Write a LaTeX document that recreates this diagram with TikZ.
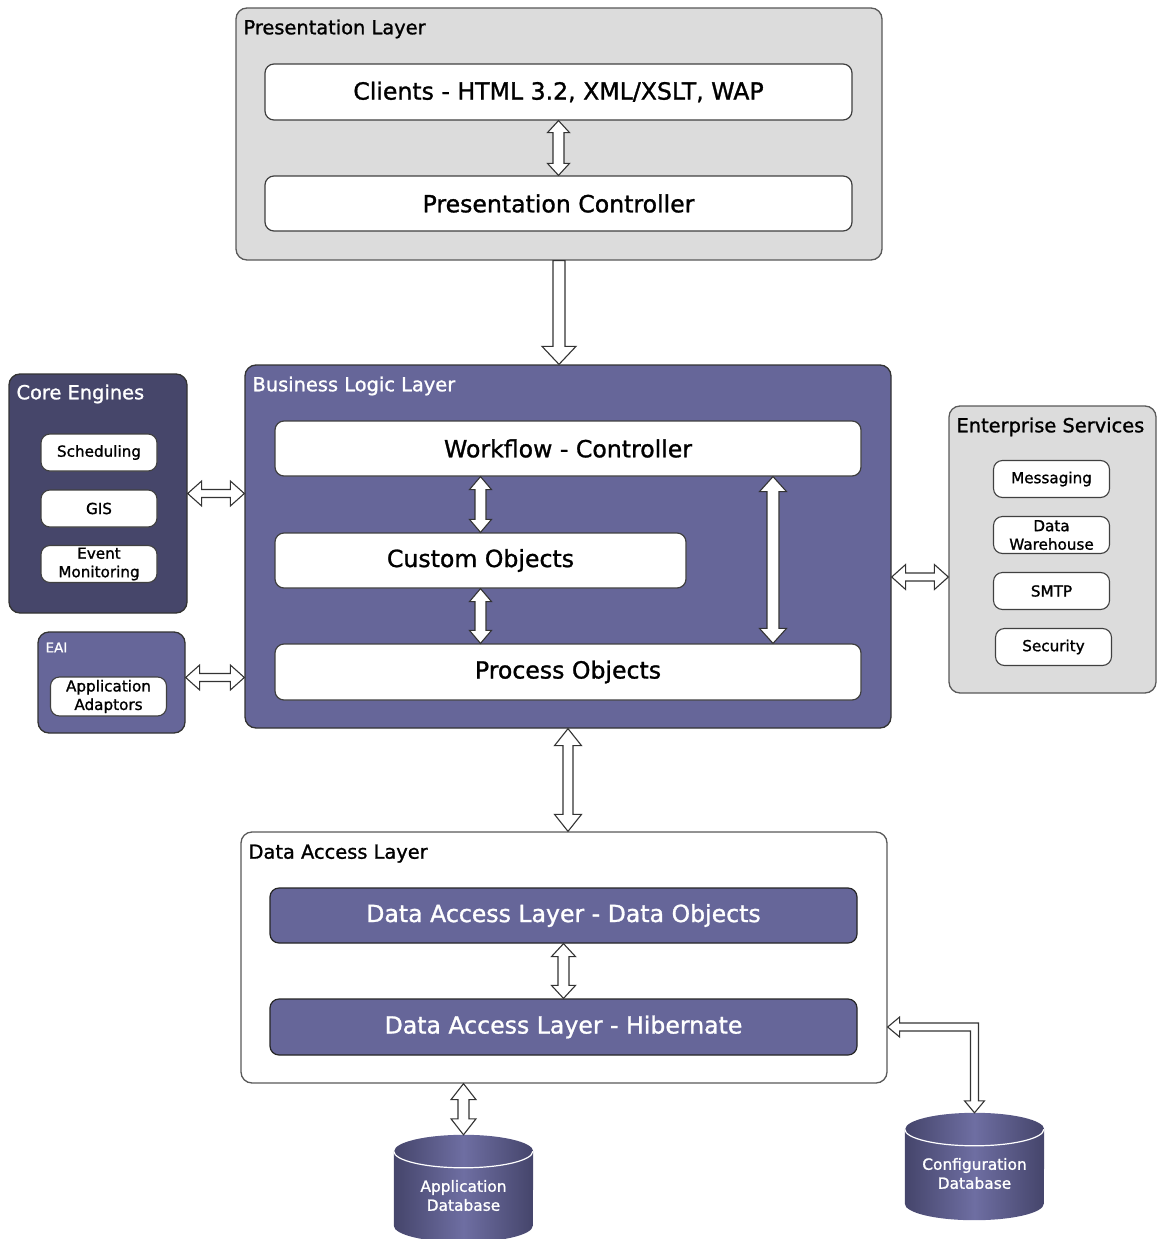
\documentclass[tikz,border=0pt]{standalone}
\usepackage{fontspec}
\setmainfont{DejaVu Sans}[FakeBold=1.2]
\usetikzlibrary{calc,positioning}

\definecolor{panelgray}{HTML}{DCDCDC}
\definecolor{bllpurple}{HTML}{666699}
\definecolor{corepurple}{HTML}{46466A}
\definecolor{dbdark}{HTML}{45456B}
\definecolor{dblight}{HTML}{6E6EA2}

\newcommand{\fbig}{\fontsize{23.6}{27}\selectfont}
\newcommand{\ftitle}{\fontsize{19.4}{22}\selectfont}
\newcommand{\fsmall}{\fontsize{15.2}{18.5}\selectfont}
\newcommand{\fdb}{\fontsize{15.4}{19}\selectfont}
\newcommand{\feai}{\fontsize{13.5}{16}\selectfont}

% hollow double arrow, vertical: top, bottom, shaft half, head half, head length
\newcommand{\vdbl}[6][]{%
  \draw[hollow,#1] (#2) -- ++(#5,#6) -- ++({#4-#5},0) -- ($(#3)+(#4,-#6)$)
    -- ++({#5-#4},0) -- (#3) -- ++(-#5,-#6) -- ++({#5-#4},0)
    -- ($(#2)+(-#4,#6)$) -- ++({#4-#5},0) -- cycle;}
% hollow double arrow, horizontal: left, right, shaft half, head half, head length
\newcommand{\hdbl}[6][]{%
  \draw[hollow,#1] (#2) -- ++(#6,-#5) -- ++(0,{#5-#4}) -- ($(#3)+(-#6,-#4)$)
    -- ++(0,{#4-#5}) -- (#3) -- ++(-#6,#5) -- ++(0,{#4-#5})
    -- ($(#2)+(#6,#4)$) -- ++(0,{#5-#4}) -- cycle;}
% hollow single arrow pointing down
\newcommand{\vone}[6][]{%
  \draw[hollow,#1] ($(#2)+(-#4,0)$) -- ($(#2)+(#4,0)$) -- ($(#3)+(#4,-#6)$)
    -- ++({#5-#4},0) -- (#3) -- ++(-#5,-#6) -- ++({#5-#4},0) -- cycle;}

\begin{document}
\begin{tikzpicture}[x=1pt, y=-1pt,
    wh/.style 2 args={minimum width=#1pt, minimum height=#2pt},
    panel/.style={rounded corners=11pt, line width=1.3pt, inner sep=0pt},
    graypanel/.style={panel, draw=black!65, fill=panelgray},
    whitepanel/.style={panel, draw=black!65, fill=white},
    purplepanel/.style={panel, draw=black!80, fill=bllpurple},
    corepanel/.style={panel, draw=black!80, fill=corepurple},
    paneltitle/.style={anchor=north west, inner sep=0pt, font=\ftitle},
    whitebox/.style={rounded corners=9pt, draw=black!75, fill=white,
        line width=1.2pt, font=\fbig},
    darkbox/.style={rounded corners=9pt, draw=black!85, fill=bllpurple,
        line width=1.2pt, font=\fbig, text=white},
    smallbox/.style={rounded corners=9pt, draw=black!75, fill=white,
        line width=1.1pt, wh={116}{37}, font=\fsmall, align=center, inner sep=1pt},
    dbbody/.style={wh={139}{107}, inner sep=0pt},
    dbshade/.style={left color=dbdark, right color=dbdark, middle color=dblight},
    dblabel/.style={text=white, font=\fdb, align=center},
    hollow/.style={draw=black!80, fill=white, line width=1.1pt, line join=miter}
  ]
  \useasboundingbox (0,0) rectangle (1158,1239);

  % Presentation layer
  \node[graypanel, wh={646}{252}] (pres) at (559,134) {};
  \node[paneltitle] at ([shift={(8pt,-12pt)}]pres.north west) {Presentation Layer};
  \node[whitebox, wh={587}{56}] (clients) at (558.5,92) {Clients - HTML 3.2, XML/XSLT, WAP};
  \node[whitebox, wh={587}{55}] (presctl) at (558.5,203.5) {Presentation Controller};

  % Business logic layer
  \node[purplepanel, wh={646}{363}] (bll) at (568,546.5) {};
  \node[paneltitle, white] at ([shift={(8pt,-12pt)}]bll.north west) {Business Logic Layer};
  \node[whitebox, wh={586}{55}] (wfc) at (568,448.5) {Workflow - Controller};
  \node[whitebox, wh={411}{55}] (cust) at (480.5,560.5) {Custom Objects};
  \node[whitebox, wh={586}{56}] (proc) at (568,672) {Process Objects};

  % Core engines
  \node[corepanel, wh={178}{239}] (core) at (98,493.5) {};
  \node[paneltitle, white] at ([shift={(8pt,-11pt)}]core.north west) {Core Engines};
  \node[smallbox] (sched) at (99,452.5) {Scheduling};
  \node[smallbox] (gis) at (99,508.5) {GIS};
  \node[smallbox] (evmon) at (99,564) {Event\\Monitoring};

  % EAI
  \node[purplepanel, wh={147}{101}] (eai) at (111.5,682.5) {};
  \node[paneltitle, white, font=\feai] at ([shift={(8pt,-11pt)}]eai.north west) {EAI};
  \node[smallbox, minimum height=39pt] (adapt) at (108.5,696.5) {Application\\Adaptors};

  % Enterprise services
  \node[graypanel, wh={207}{287}] (ent) at (1052.5,549.5) {};
  \node[paneltitle] at ([shift={(8pt,-12pt)}]ent.north west) {Enterprise Services};
  \node[smallbox] (msg) at (1051.5,479) {Messaging};
  \node[smallbox] (dwh) at (1051.5,535) {Data\\Warehouse};
  \node[smallbox] (smtp) at (1051.5,591) {SMTP};
  \node[smallbox] (sec) at (1053.5,647) {Security};

  % Data access layer
  \node[whitepanel, wh={646}{251}] (dal) at (564,957.5) {};
  \node[paneltitle] at ([shift={(8pt,-13pt)}]dal.north west) {Data Access Layer};
  \node[darkbox, wh={587}{55}] (dao) at (563.5,915.5) {Data Access Layer - Data Objects};
  \node[darkbox, wh={587}{56}] (hib) at (563.5,1027) {Data Access Layer - Hibernate};

  % Databases
  \node[dbbody] (appdb) at (463.5,1188.5) {};
  \node[dbbody] (cfgdb) at (974.5,1166.5) {};
  \foreach \db/\txt in {appdb/Application, cfgdb/Configuration} {
    \shade[dbshade] ($(\db.north west)+(0,16.5)$) -- ($(\db.south west)+(0,-16.5)$)
      arc[start angle=180, end angle=360, x radius=69.5pt, y radius=16.5pt]
      -- ($(\db.north east)+(0,16.5)$)
      arc[start angle=0, end angle=180, x radius=69.5pt, y radius=16.5pt] -- cycle;
    \draw[white, line width=1.2pt] ($(\db.north west)+(0,16.5)$)
      arc[start angle=180, end angle=360, x radius=69.5pt, y radius=16.5pt];
    \node[dblabel] at ([yshift=-7pt]\db.center) {\txt\\Database};
  }

  % Connectors
  \vdbl{clients.south}{presctl.north}{5.5}{11}{12}
  \coordinate (bllin) at (pres.south |- bll.north);
  \vone{pres.south}{bllin}{6}{17}{18}
  \coordinate (wfcout) at (wfc.south -| cust.north);
  \vdbl{wfcout}{cust.north}{5.5}{11}{13}
  \coordinate (procin) at (proc.north -| cust.south);
  \vdbl{cust.south}{procin}{5.5}{11}{13}
  \coordinate (wfclong) at ([xshift=205pt]wfc.south);
  \coordinate (proclong) at (wfclong |- proc.north);
  \vdbl{wfclong}{proclong}{6}{13.5}{15}
  \coordinate (dalin) at (bll.south |- dal.north);
  \vdbl{bll.south}{dalin}{5}{13.5}{17}
  \vdbl{dao.south}{hib.north}{5.5}{12}{13}
  \coordinate (dalout) at (appdb.north |- dal.south);
  \vdbl{dalout}{appdb.north}{5.5}{12.5}{16}

  \coordinate (corein) at (core.east -| bll.west);
  \hdbl{core.east}{corein}{4}{12.5}{14}
  \coordinate (eaiout) at ([yshift=5pt]eai.east);
  \coordinate (eaiin) at (eaiout -| bll.west);
  \hdbl{eaiout}{eaiin}{4}{12.5}{14}
  \coordinate (esin) at ([yshift=-27.5pt]ent.west);
  \coordinate (esout) at (esin -| bll.east);
  \hdbl{esout}{esin}{4}{12.5}{14}

  % elbow to configuration database
  \coordinate (cfgin) at (dal.east |- hib.east);
  \coordinate (cfgbend) at (cfgdb.north |- hib.east);
  \draw[hollow] (cfgin) -- ++(12,-10) -- ++(0,6) -- ($(cfgbend)+(4,-4)$)
    -- ($(cfgdb.north)+(4,-12)$) -- ++(6,0) -- (cfgdb.north) -- ++(-10,-12)
    -- ++(6,0) -- ($(cfgbend)+(-4,4)$) -- ($(cfgin)+(12,4)$) -- ++(0,6) -- cycle;
\end{tikzpicture}
\end{document}
